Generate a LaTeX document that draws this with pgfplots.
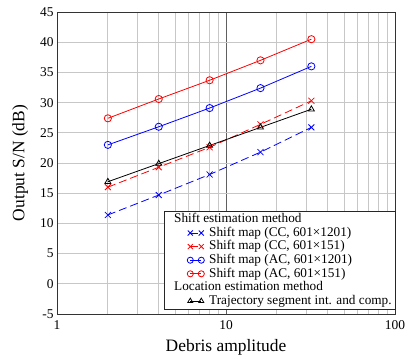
\documentclass[border=0pt]{standalone}
\usepackage{fontspec}
\setmainfont{Liberation Serif}
\usepackage{pgfplots}
\pgfplotsset{compat=1.18}
\begin{document}
\begin{tikzpicture}
\begin{axis}[
  scale only axis,
  width=338bp, height=302bp,
  xmode=log, xmin=1, xmax=100,
  ymin=-5, ymax=45, ytick={-5,0,...,45},
  /pgf/number format/assume math mode=true,
  log ticks with fixed point,
  xtick={1,10,100},
  major tick length=0pt, minor tick length=0pt,
  grid=both,
  major x grid style={gray!75!black, line width=0.8bp},
  minor x grid style={black!22, line width=0.8bp},
  major y grid style={black!22, line width=0.8bp},
  axis line style={black!80, line width=0.9bp},
  tick label style={font=\fontsize{13.5}{13.5}\selectfont},
  xticklabel style={yshift=-3bp},
  label style={font=\fontsize{17.5}{17.5}\selectfont},
  xlabel={Debris amplitude},
  ylabel={Output S/N (dB)},
  xlabel shift=3bp,
  ylabel shift=5bp,
  legend cell align=left,
  legend style={at={(1,0)}, anchor=south east, xshift=0.5bp, yshift=4.5bp,
    font=\fontsize{13.3}{13.3}\selectfont, draw=black!85, line width=0.8bp,
    inner xsep=3bp, inner ysep=1.3bp, row sep=0pt, column sep=1bp,
    nodes={inner sep=0.5bp, text height=9.6bp, text depth=3.0bp}},
  legend image code/.code={\path[draw=none,fill=none] (-7bp,-2bp) rectangle (33.4bp,2bp);
    \draw[mark repeat=1,mark phase=1,mark options={scale=0.85},#1] plot coordinates {(16bp,0bp)(27bp,0bp)};},
  every axis plot/.append style={line width=0.8bp},
]
\addlegendimage{empty legend}
\addlegendentry{\hspace*{-35bp}Shift estimation method}
\addplot[blue, mark=x, mark size=4.2bp, dash pattern=on 8bp off 4bp, mark options={solid}] coordinates {(2,11.4)(4,14.7)(8,18.1)(16,21.8)(32,25.9)};
\addlegendentry{Shift map (CC, 601×1201)}
\addplot[red, mark=x, mark size=4.2bp, dash pattern=on 8bp off 4bp, mark options={solid}] coordinates {(2,16.0)(4,19.3)(8,22.6)(16,26.4)(32,30.3)};
\addlegendentry{Shift map (CC, 601×151)}
\addplot[blue, mark=o, mark size=3.6bp] coordinates {(2,23.0)(4,26.0)(8,29.1)(16,32.4)(32,36.0)};
\addlegendentry{Shift map (AC, 601×1201)}
\addplot[red, mark=o, mark size=3.6bp] coordinates {(2,27.4)(4,30.6)(8,33.7)(16,37.0)(32,40.5)};
\addlegendentry{Shift map (AC, 601×151)}
\addlegendimage{empty legend}
\addlegendentry{\hspace*{-35bp}\rule{0pt}{13.6bp}Location estimation method}
\addplot[black, mark=triangle, mark size=3.4bp] coordinates {(2,16.9)(4,19.9)(8,22.9)(16,25.9)(32,28.9)};
\addlegendentry{Trajectory segment int. and comp.}
\end{axis}
\path (current axis.south west) ++(-57bp,-43bp) rectangle ++(415bp,357bp);
\end{tikzpicture}
\end{document}
